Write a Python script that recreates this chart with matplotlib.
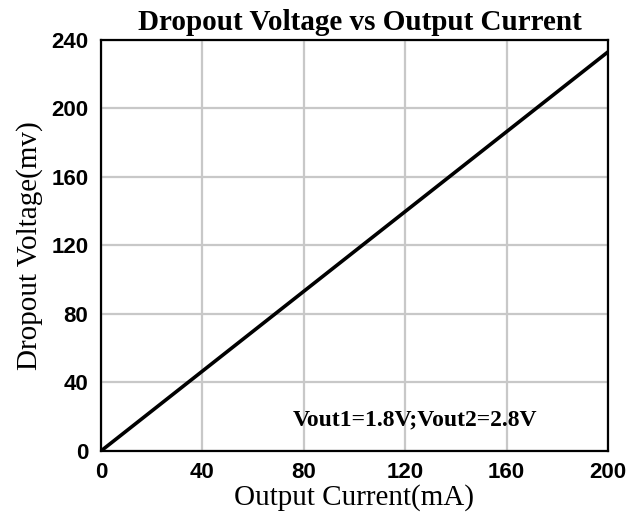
import matplotlib
matplotlib.use("Agg")
import matplotlib.pyplot as plt

current = [0, 200]
dropout = [0, 233]
xticks = [0, 40, 80, 120, 160, 200]
yticks = [0, 40, 80, 120, 160, 200, 240]

fig = plt.figure(figsize=(6.31, 5.25), dpi=100)
ax = fig.add_axes([0.160, 0.141, 0.8035, 0.783])

ax.plot(current, dropout, color="black", lw=2.6, solid_capstyle="butt")
ax.set_xlim(0, 200)
ax.set_ylim(0, 240)
ax.set_xticks(xticks)
ax.set_yticks(yticks)
ax.grid(True, color="#c8c8c8", lw=1.6)
ax.set_axisbelow(True)
for s in ax.spines.values():
    s.set_linewidth(1.6)
ax.tick_params(axis="x", length=0, pad=8)
ax.tick_params(axis="y", length=0, pad=9)
for lab in ax.get_xticklabels() + ax.get_yticklabels():
    lab.set_family("Liberation Sans")
    lab.set_fontweight("bold")
    lab.set_fontsize(16)

ax.set_xlabel("Output Current(mA)", family="Liberation Serif", fontsize=21, labelpad=1)
ax.set_ylabel("Dropout Voltage(mv)", family="Liberation Serif", fontsize=21, labelpad=6)
ax.set_title("Dropout Voltage vs Output Current", family="Liberation Serif",
             fontweight="bold", fontsize=21, pad=7, x=0.51)
ax.text(75.5, 18, "Vout1=1.8V;Vout2=2.8V", family="Liberation Serif",
        fontweight="bold", fontsize=17, va="center", ha="left")

fig.savefig("out.png", dpi=100)
